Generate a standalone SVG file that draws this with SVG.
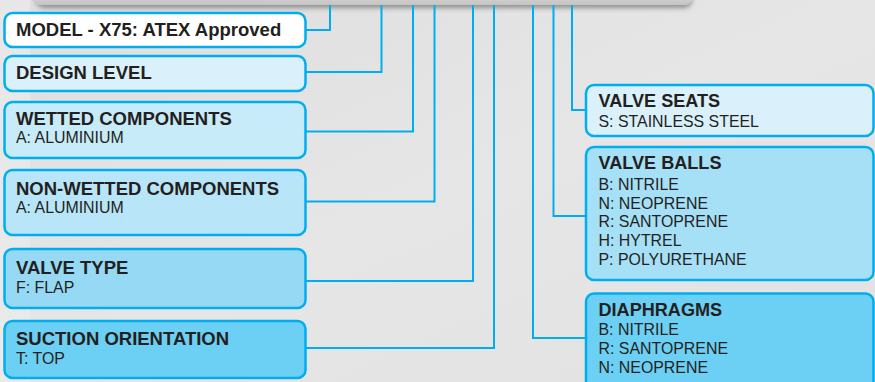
<svg xmlns="http://www.w3.org/2000/svg" width="875" height="382" viewBox="0 0 875 382">
<defs>
<style>
.box{stroke:#00aeef;stroke-width:2.5}
.t{font-family:"Liberation Sans",Arial,sans-serif;font-weight:bold;font-size:18.5px;fill:#231f20}
.tr{font-family:"Liberation Sans",Arial,sans-serif;font-weight:bold;font-size:18.1px;fill:#231f20}
.s{font-family:"Liberation Sans",Arial,sans-serif;font-size:15.9px;fill:#231f20}
.c{fill:none;stroke:#00aeef;stroke-width:2}
</style>
<linearGradient id="bg" x1="0" y1="0" x2="1" y2="1">
<stop offset="0" stop-color="#dedede"/>
<stop offset="0.5" stop-color="#e6e6e6"/>
<stop offset="1" stop-color="#e2e2e2"/>
</linearGradient>
<linearGradient id="topg" x1="0" y1="0" x2="0" y2="1">
<stop offset="0" stop-color="#efefef"/>
<stop offset="1" stop-color="#c4c4c4"/>
</linearGradient>
<filter id="sh" x="-10%" y="-50%" width="120%" height="300%">
<feGaussianBlur stdDeviation="2.5"/>
</filter>
</defs>
<rect width="875" height="382" fill="url(#bg)"/>
<rect x="0" y="0" width="30" height="382" fill="#ececec" opacity="0.6"/>
<g id="top-panel">
<rect x="36" y="-20" width="656" height="28" rx="8" fill="#7a7a7a" filter="url(#sh)" opacity="0.8"/>
<rect x="32" y="-20" width="661" height="25" rx="8" fill="url(#topg)"/>
</g>
<g id="connectors">
<polyline class="c" points="306,30 330,30 330,5"/>
<polyline class="c" points="306,72 381.5,72 381.5,5"/>
<polyline class="c" points="306,131.5 413,131.5 413,5"/>
<polyline class="c" points="306,201.5 434.5,201.5 434.5,5"/>
<polyline class="c" points="306,281 473,281 473,5"/>
<polyline class="c" points="306,348 494,348 494,5"/>
<polyline class="c" points="586,110 572,110 572,5"/>
<polyline class="c" points="586,216 553.5,216 553.5,5"/>
<polyline class="c" points="586,338 533,338 533,5"/>
</g>
<g id="model">
<rect class="box" x="4.5" y="13" width="301" height="34" rx="8" fill="#ffffff"/>
<text class="t" x="16" y="35.5">MODEL - X75: ATEX Approved</text>
</g>
<g id="design-level">
<rect class="box" x="4.5" y="56" width="301" height="35" rx="8" fill="#daf1fb"/>
<text class="t" x="16" y="78.5">DESIGN LEVEL</text>
</g>
<g id="wetted">
<rect class="box" x="4.5" y="102" width="301" height="56" rx="8" fill="#c8ebf9"/>
<text class="t" x="16" y="125">WETTED COMPONENTS</text>
<text class="s" x="16" y="143">A: ALUMINIUM</text>
</g>
<g id="non-wetted">
<rect class="box" x="4.5" y="170" width="301" height="65" rx="8" fill="#b8e5f8"/>
<text class="t" x="16" y="195">NON-WETTED COMPONENTS</text>
<text class="s" x="16" y="213">A: ALUMINIUM</text>
</g>
<g id="valve-type">
<rect class="box" x="4.5" y="249" width="301" height="59" rx="8" fill="#96d9f5"/>
<text class="t" x="16" y="273.5">VALVE TYPE</text>
<text class="s" x="16" y="292.5">F: FLAP</text>
</g>
<g id="suction">
<rect class="box" x="4.5" y="321" width="301" height="57" rx="8" fill="#6ccff4"/>
<text class="t" x="16" y="345">SUCTION ORIENTATION</text>
<text class="s" x="16" y="364">T: TOP</text>
</g>
<g id="valve-seats">
<rect class="box" x="586" y="85" width="287.5" height="51" rx="8" fill="#daf1fb"/>
<text class="tr" x="598.5" y="107">VALVE SEATS</text>
<text class="s" x="598.5" y="127">S: STAINLESS STEEL</text>
</g>
<g id="valve-balls">
<rect class="box" x="586" y="147" width="287.5" height="133" rx="8" fill="#a6e0f7"/>
<text class="tr" x="598.5" y="169">VALVE BALLS</text>
<text class="s" x="598.5" y="190">B: NITRILE</text>
<text class="s" x="598.5" y="208.5">N: NEOPRENE</text>
<text class="s" x="598.5" y="227">R: SANTOPRENE</text>
<text class="s" x="598.5" y="246">H: HYTREL</text>
<text class="s" x="598.5" y="264.5">P: POLYURETHANE</text>
</g>
<g id="diaphragms">
<rect class="box" x="586" y="293.5" width="287.5" height="100" rx="8" fill="#6ccff4"/>
<text class="tr" x="598.5" y="315.5">DIAPHRAGMS</text>
<text class="s" x="598.5" y="334.5">B: NITRILE</text>
<text class="s" x="598.5" y="354">R: SANTOPRENE</text>
<text class="s" x="598.5" y="373">N: NEOPRENE</text>
</g>
</svg>
